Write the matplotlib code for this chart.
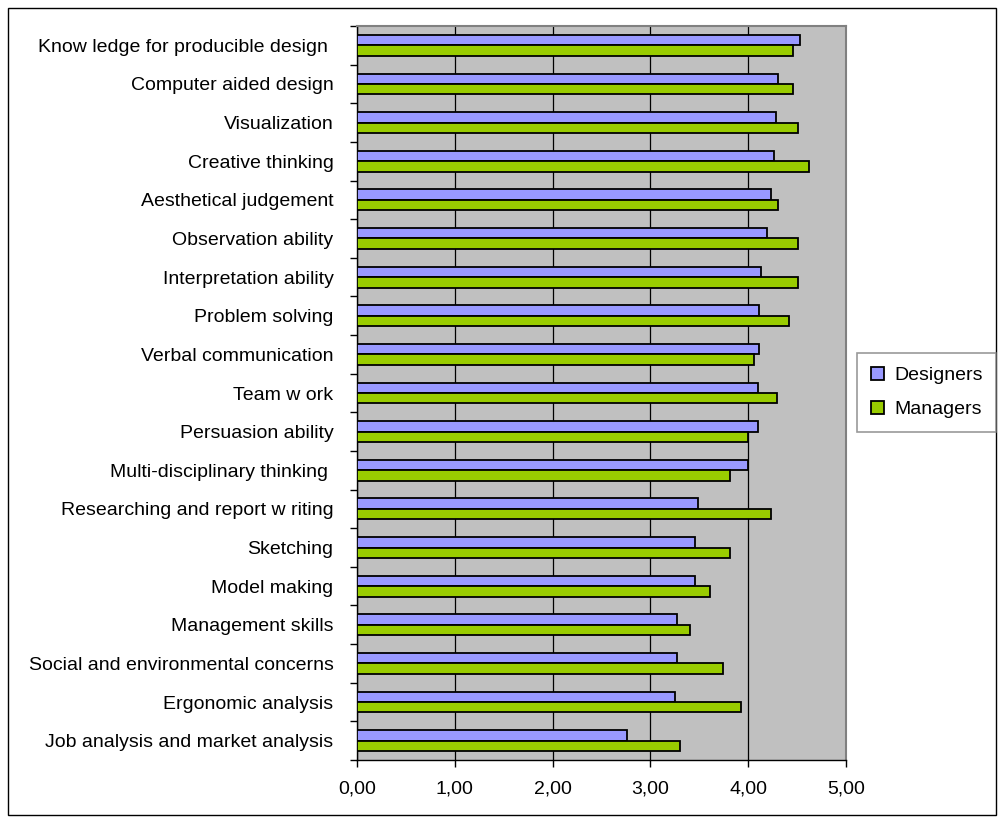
import numpy as np
import matplotlib
matplotlib.use("Agg")
import matplotlib.pyplot as plt
from matplotlib.patches import Rectangle
from matplotlib.ticker import FixedLocator

# skills, top to bottom as in the chart
skills = [
    "Know ledge for producible design ",
    "Computer aided design",
    "Visualization",
    "Creative thinking",
    "Aesthetical judgement",
    "Observation ability",
    "Interpretation ability",
    "Problem solving",
    "Verbal communication",
    "Team w ork",
    "Persuasion ability",
    "Multi-disciplinary thinking ",
    "Researching and report w riting",
    "Sketching",
    "Model making",
    "Management skills",
    "Social and environmental concerns",
    "Ergonomic analysis",
    "Job analysis and market analysis",
]
designers = [4.53, 4.30, 4.28, 4.26, 4.23, 4.19, 4.13, 4.11, 4.11, 4.10,
             4.10, 4.00, 3.49, 3.46, 3.46, 3.27, 3.27, 3.25, 2.76]
managers = [4.46, 4.46, 4.51, 4.62, 4.30, 4.51, 4.51, 4.42, 4.06, 4.29,
            4.00, 3.81, 4.23, 3.81, 3.61, 3.40, 3.74, 3.93, 3.30]
xticks = [0, 1, 2, 3, 4, 5]
xtick_labels = ["0,00", "1,00", "2,00", "3,00", "4,00", "5,00"]

plt.rcParams['font.family'] = ['Liberation Sans', 'DejaVu Sans']
fs = 14

fig = plt.figure(figsize=(10.01, 8.23), dpi=100)
ax = fig.add_axes([357 / 1001, 1 - 760 / 823, (846 - 357) / 1001, (760 - 26) / 823])
ax.set_facecolor("#C0C0C0")

y = np.arange(len(skills))
h = 0.27
ax.barh(y - h / 2, designers, height=h, color="#9999FF", edgecolor="black",
        linewidth=1.3, label="Designers", zorder=3)
ax.barh(y + h / 2, managers, height=h, color="#99CC00", edgecolor="black",
        linewidth=1.3, label="Managers", zorder=3)

ax.set_xlim(0, 5)
ax.set_ylim(len(skills) - 0.5, -0.5)
ax.set_xticks(xticks)
ax.set_xticklabels(xtick_labels, fontsize=fs)
ax.set_yticks(y)
ax.set_yticklabels(skills, fontsize=fs)
ax.tick_params(axis="y", which="major", length=0, pad=17)
ax.yaxis.set_minor_locator(FixedLocator(np.arange(-0.5, len(skills), 1)))
ax.tick_params(axis="y", which="minor", length=5, width=1, direction="out")
ax.tick_params(axis="x", length=5, width=1, direction="out", pad=10)

ax.grid(axis="x", color="black", linewidth=0.9, zorder=1)
ax.set_axisbelow(True)
for side in ["top", "right"]:
    ax.spines[side].set_color("#808080")
    ax.spines[side].set_linewidth(1.5)
for side in ["left", "bottom"]:
    ax.spines[side].set_color("black")
    ax.spines[side].set_linewidth(1)

leg = fig.legend(loc="upper left", bbox_to_anchor=(857 / 1001, 1 - 353 / 823),
                 fontsize=fs, frameon=True, fancybox=False, handlelength=0.7,
                 handleheight=0.7, handletextpad=0.5, labelspacing=0.85,
                 borderpad=0.7, borderaxespad=0)
leg.get_frame().set_edgecolor("#808080")
leg.get_frame().set_linewidth(1.2)

fig.patches.append(Rectangle((8 / 1001, 1 - 815 / 823), (996 - 8) / 1001, (815 - 8) / 823,
                             transform=fig.transFigure, fill=False,
                             edgecolor="black", linewidth=1))

fig.savefig("out.png", dpi=100)
